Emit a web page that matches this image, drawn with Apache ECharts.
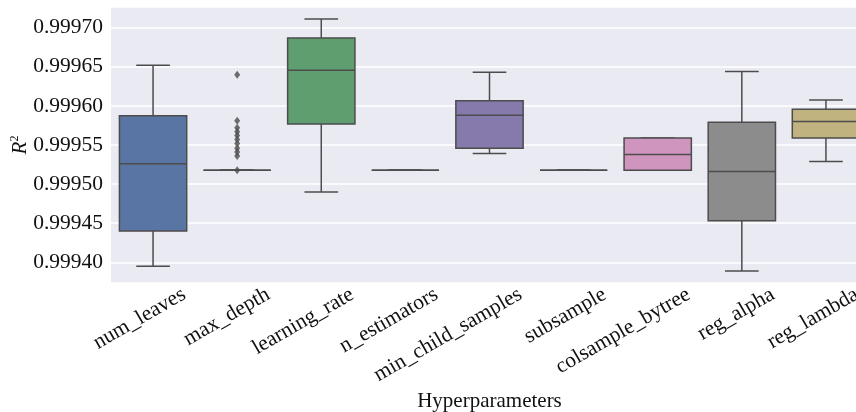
<!DOCTYPE html>
<html>
<head>
<meta charset="utf-8">
<script src="https://cdn.jsdelivr.net/npm/echarts@6/dist/echarts.min.js"></script>
<style>html,body{margin:0;padding:0;background:#fff;}#c{width:856px;height:412px;}</style>
</head>
<body>
<div id="c"></div>
<script>
var categories = ['num_leaves','max_depth','learning_rate','n_estimators','min_child_samples','subsample','colsample_bytree','reg_alpha','reg_lambda'];
var whiskerLow  = [0.999395, 0.9995176, 0.999490, 0.9995176, 0.999539, 0.9995176, 0.9995176, 0.999389, 0.999529];
var q1          = [0.999440, 0.9995176, 0.999577, 0.9995176, 0.999546, 0.9995176, 0.9995176, 0.999453, 0.999559];
var median      = [0.999526, 0.9995176, 0.9996455, 0.9995176, 0.999588, 0.9995176, 0.999538, 0.999516, 0.999580];
var q3          = [0.9995875, 0.9995176, 0.999687, 0.9995176, 0.9996066, 0.9995176, 0.999559, 0.999579, 0.9995956];
var whiskerHigh = [0.999652, 0.9995176, 0.999711, 0.9995176, 0.999643, 0.9995176, 0.999559, 0.999644, 0.9996075];
var outlierCategory = 'max_depth';
var outlierValues = [0.999640, 0.999581, 0.999572, 0.999567, 0.999562, 0.999557, 0.999552, 0.999546, 0.999541, 0.999536, 0.9995176];
var boxColors = ['#5875a4','#cc8963','#5f9e6e','#b55d60','#857aab','#8d7866','#d095bf','#8c8c8c','#c1b37f'];

var lineColor = '#4c4c4c';
var font = '"Liberation Serif", "Times New Roman", serif';

var boxData = categories.map(function (c, i) {
  return [i, whiskerLow[i], q1[i], median[i], q3[i], whiskerHigh[i]];
});
var outlierData = outlierValues.map(function (v) { return [outlierCategory, v]; });

function renderBox(params, api) {
  var idx = api.value(0);
  var pMin = api.coord([idx, api.value(1)]);
  var pQ1 = api.coord([idx, api.value(2)]);
  var pMed = api.coord([idx, api.value(3)]);
  var pQ3 = api.coord([idx, api.value(4)]);
  var pMax = api.coord([idx, api.value(5)]);
  var band = api.size([1, 0])[0];
  var bw = band * 0.8;
  var cw = bw * 0.5;
  var x = pQ1[0];
  var st = { stroke: lineColor, lineWidth: 1.5 };
  return {
    type: 'group',
    children: [
      { type: 'line', shape: { x1: x, y1: pQ3[1], x2: x, y2: pMax[1] }, style: st },
      { type: 'line', shape: { x1: x, y1: pQ1[1], x2: x, y2: pMin[1] }, style: st },
      { type: 'line', shape: { x1: x - cw / 2, y1: pMax[1], x2: x + cw / 2, y2: pMax[1] }, style: st },
      { type: 'line', shape: { x1: x - cw / 2, y1: pMin[1], x2: x + cw / 2, y2: pMin[1] }, style: st },
      { type: 'rect', shape: { x: x - bw / 2, y: pQ3[1], width: bw, height: pQ1[1] - pQ3[1] },
        style: { fill: boxColors[idx], stroke: lineColor, lineWidth: 1.5 } },
      { type: 'line', shape: { x1: x - bw / 2, y1: pMed[1], x2: x + bw / 2, y2: pMed[1] }, style: st }
    ]
  };
}

var chart = echarts.init(document.getElementById('c'));
chart.setOption({
  animation: false,
  backgroundColor: '#ffffff',
  grid: [
    { left: 111, top: 7, width: 757, height: 276, show: true, backgroundColor: '#eaeaf2', borderWidth: 0,
      containLabel: false, outerBoundsMode: 'none' },
    { left: 142, top: 7, width: 757, height: 276, show: false,
      containLabel: false, outerBoundsMode: 'none' }
  ],
  xAxis: [{
    type: 'category',
    gridIndex: 0,
    data: categories,
    name: 'Hyperparameters',
    nameLocation: 'middle',
    nameGap: 108,
    nameMoveOverlap: false,
    nameTextStyle: { fontFamily: font, fontSize: 21, color: '#111' },
    axisLine: { show: false },
    axisTick: { show: false },
    splitLine: { show: false },
    axisLabel: { show: false }
  }, {
    type: 'category',
    gridIndex: 1,
    data: categories,
    axisLine: { show: false },
    axisTick: { show: false },
    splitLine: { show: false },
    axisLabel: { rotate: 30, margin: 10, fontFamily: font, fontSize: 21.5, color: '#111', interval: 0 }
  }],
  yAxis: [{
    type: 'value',
    gridIndex: 0,
    min: 0.9993735,
    max: 0.9997265,
    splitNumber: 7,
    name: '{i|R}{s|2}',
    nameLocation: 'middle',
    nameGap: 80,
    nameMoveOverlap: false,
    nameRotate: 90,
    nameTextStyle: {
      rich: {
        i: { fontFamily: font, fontStyle: 'italic', fontSize: 21, color: '#111' },
        s: { fontFamily: font, fontSize: 12, color: '#111', verticalAlign: 'top', padding: [0, 0, 10, 0] }
      }
    },
    axisLine: { show: false },
    axisTick: { show: false },
    splitLine: { show: true, lineStyle: { color: '#ffffff', width: 1.5 } },
    axisLabel: {
      showMinLabel: false, showMaxLabel: false,
      fontFamily: font, fontSize: 21.5, color: '#111', margin: 8,
      formatter: function (v) { return v.toFixed(5); }
    }
  }, {
    type: 'value',
    gridIndex: 1,
    show: false
  }],
  series: [
    { type: 'custom', renderItem: renderBox, data: boxData, encode: { x: 0, y: [1, 2, 3, 4, 5] }, z: 2 },
    { type: 'scatter', data: outlierData, symbol: 'diamond', symbolSize: [6, 8],
      itemStyle: { color: lineColor }, z: 3 }
  ]
});
</script>
</body>
</html>
